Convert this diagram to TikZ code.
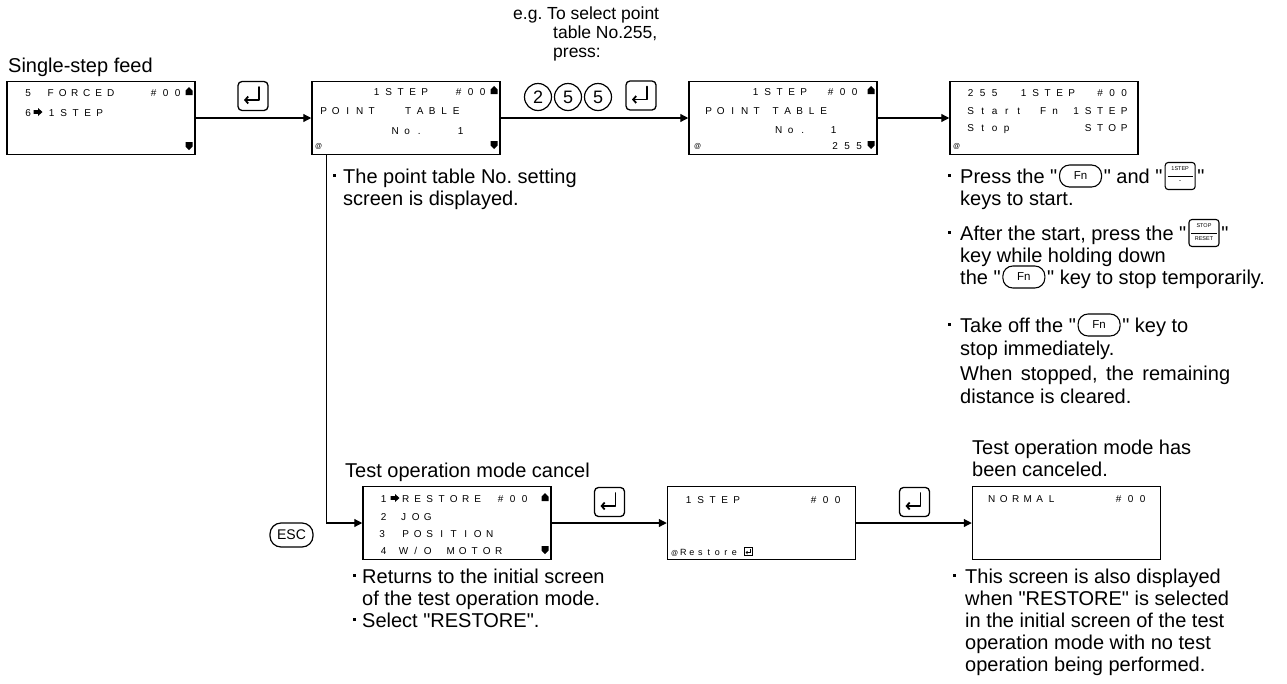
\documentclass[tikz,border=0pt]{standalone}
\usepackage{fontspec}
\setmainfont{Liberation Sans}[Ligatures=TeXOff]
\usetikzlibrary{arrows.meta,calc}
\ExplSyntaxOn
\NewDocumentCommand\lcd{O{12pt}m}{\tl_map_inline:nn{#2}{\makebox[#1][c]{##1}}}
\ExplSyntaxOff
\frenchspacing
\newcommand\bul[1][12pt]{\makebox[#1][l]{\raisebox{6.5pt}{\rule{3pt}{3pt}}}}
\newcommand\upmark[1]{\fill (#1) ++(-3.5,4) -- ++(0,-4.5) -- ++(3.5,-3.5) -- ++(3.5,3.5) -- ++(0,4.5) -- cycle;}
\newcommand\downmark[1]{\fill (#1) ++(-3.5,-4) -- ++(0,4.5) -- ++(3.5,3.5) -- ++(3.5,-3.5) -- ++(0,-4.5) -- cycle;}
\newcommand\rmark[1]{\fill (#1) ++(-4.5,-1.8) -- ++(4.5,0) -- ++(0,-2.2) -- ++(4.5,4) -- ++(-4.5,4) -- ++(0,-2.2) -- ++(-4.5,0) -- cycle;}
\tikzset{
 screen/.style={draw, line width=1.5pt, minimum width=188pt, minimum height=73pt, inner sep=0},
 lcdt/.style={inner sep=0, anchor=base west, font=\fontsize{10}{12}\selectfont},
 atsign/.style={inner sep=0, anchor=base west, font=\fontsize{7}{8}\selectfont},
 txt/.style={inner sep=0, anchor=base west, font=\fontsize{20}{22}\selectfont},
 egt/.style={inner sep=0, anchor=base west, font=\fontsize{17.5}{19}\selectfont},
 conn/.style={line width=1.2pt, -{Triangle[length=8pt,width=8pt]}},
 ekey/.style={draw, line width=1.3pt, rounded corners=4pt, minimum width=30pt, minimum height=29pt, inner sep=0},
 retline/.style={line width=1.8pt, line cap=round, line join=round, -{Straight Barb[length=3pt,width=7pt]}},
 dkey/.style={draw, circle, line width=1.2pt, minimum size=27pt, inner sep=0, font=\fontsize{18}{18}\selectfont},
 esckey/.style={draw, rounded corners=11pt, line width=1.2pt, minimum width=43pt, minimum height=24pt, inner sep=0, font=\fontsize{14}{14}\selectfont},
 fnkey/.style={draw, rounded corners=10pt, line width=1.1pt, minimum width=42pt, minimum height=22pt, inner sep=0, font=\fontsize{11.5}{12}\selectfont},
 stkey/.style={draw, rounded corners=3pt, line width=1.1pt, minimum width=30pt, minimum height=27pt, inner sep=0},
 tinyt/.style={inner sep=0, font=\fontsize{5.5}{6}\selectfont},
}
\newcommand\enterkey[2]{%
 \node[ekey] (#1) at (#2) {};
 \draw[retline] ($(#1.center)+(6,-9)$) -- ($(#1.center)+(6,4)$) -- ($(#1.center)+(-9,4)$);}
\begin{document}
\begin{tikzpicture}[x=1pt,y=-1pt]
\useasboundingbox (0,0) rectangle (1287,683);
% ---------- titles ----------
\node[txt] (ttl1) at (8,72) {Single-step feed};
\node[egt] (eg1) at (513,19) {e.g. To select point};
\node[egt] (eg2) at (553,38) {table No.255,};
\node[egt] (eg3) at (553,57) {press:};
\node[txt] (ttl2) at (345,477) {Test operation mode cancel};
\node[txt] (ttl3) at (972,454) {Test operation mode has};
\node[txt] (ttl3b) at (972,476) {been canceled.};
% ---------- screen 1 ----------
\node[screen] (s1) at (101,118) {};
\node[lcdt] (s1a) at (22,96) {\lcd{5}};
\node[lcdt] (s1b) at (44.5,96) {\lcd{FORCED}};
\node[lcdt] (s1c) at (147.5,96) {\lcd{\#00}};
\upmark{189,91}
\node[lcdt] (s1d) at (22,116) {\lcd{6}};
\rmark{38,112}
\node[lcdt] (s1e) at (45.5,116) {\lcd{1STEP}};
\downmark{189,146}
% ---------- screen 2 ----------
\node[screen] (s2) at (406,118) {};
\node[lcdt] (s2a) at (370.5,95) {\lcd{1STEP}};
\node[lcdt] (s2b) at (452.5,95) {\lcd{\#00}};
\upmark{494,90}
\node[lcdt] (s2c) at (317.5,114) {\lcd{POINT}};
\node[lcdt] (s2d) at (402,114) {\lcd{TABLE}};
\node[lcdt] (s2e) at (389,134) {\lcd{No.}};
\node[lcdt] (s2f) at (454.5,134) {\lcd{1}};
\node[atsign] (s2g) at (315,148) {@};
\downmark{494,145}
% ---------- screen 3 ----------
\node[screen] (s3) at (783,118) {};
\node[lcdt] (s3a) at (749.5,95) {\lcd{1STEP}};
\node[lcdt] (s3b) at (824.5,95) {\lcd{\#00}};
\upmark{871,90}
\node[lcdt] (s3c) at (702.5,114) {\lcd{POINT}};
\node[lcdt] (s3d) at (769.5,114) {\lcd{TABLE}};
\node[lcdt] (s3e) at (772.5,133) {\lcd{No.}};
\node[lcdt] (s3f) at (827.5,133) {\lcd{1}};
\node[atsign] (s3g) at (694,148) {@};
\node[lcdt] (s3h) at (829,149) {\lcd{255}};
\downmark{871,145}
% ---------- screen 4 ----------
\node[screen] (s4) at (1044,118) {};
\node[lcdt] (s4a) at (964.5,96) {\lcd{255}};
\node[lcdt] (s4b) at (1017.5,96) {\lcd{1STEP}};
\node[lcdt] (s4c) at (1094,96) {\lcd{\#00}};
\node[lcdt] (s4d) at (964.5,114) {\lcd{Start}};
\node[lcdt] (s4e) at (1037,114) {\lcd{Fn}};
\node[lcdt] (s4f) at (1070,114) {\lcd{1STEP}};
\node[lcdt] (s4g) at (964.5,131) {\lcd{Stop}};
\node[lcdt] (s4h) at (1082,131) {\lcd{STOP}};
\node[atsign] (s4i) at (953,148) {@};
% ---------- screen 5 ----------
\node[screen] (s5) at (457,523) {};
\node[lcdt] (s5a) at (377.5,502) {\lcd{1}};
\rmark{395,498}
\node[lcdt] (s5b) at (399.5,502) {\lcd{RESTORE}};
\node[lcdt] (s5c) at (494.5,502) {\lcd{\#00}};
\upmark{545,497}
\node[lcdt] (s5d) at (377.5,520) {\lcd{2}};
\node[lcdt] (s5e) at (397.5,520) {\lcd{JOG}};
\node[lcdt] (s5f) at (376,537) {\lcd{3}};
\node[lcdt] (s5g) at (399.5,537) {\lcd{POSITION}};
\node[lcdt] (s5h) at (377.5,554) {\lcd{4}};
\node[lcdt] (s5i) at (397.5,554) {\lcd{W/O}};
\node[lcdt] (s5j) at (444.5,554) {\lcd{MOTOR}};
\downmark{545,550}
% ---------- screen 6 ----------
\node[screen] (s6) at (761.5,523) {};
\node[lcdt] (s6a) at (682.5,503) {\lcd{1STEP}};
\node[lcdt] (s6b) at (807.5,503) {\lcd{\#00}};
\node[atsign] (s6c) at (671,555) {@};
\node[lcdt, font=\fontsize{9}{10}\selectfont] (s6d) at (679,555) {\lcd[8.5pt]{Restore}};
\node[draw, line width=0.7pt, minimum size=8pt, inner sep=0] (s6e) at (748,551) {};
\draw[line width=0.7pt, -{Straight Barb[length=1.5pt,width=3pt]}] ($(s6e.center)+(2,-2.5)$) -- ($(s6e.center)+(2,1.5)$) -- ($(s6e.center)+(-2.5,1.5)$);
% ---------- screen 7 ----------
\node[screen] (s7) at (1066.5,523) {};
\node[lcdt] (s7a) at (985.5,502) {\lcd{NORMAL}};
\node[lcdt] (s7b) at (1112.5,502) {\lcd{\#00}};
% ---------- keys ----------
\enterkey{k1}{253,96}
\node[dkey] (d1) at (538,97) {2};
\node[dkey] (d2) at (568,97) {5};
\node[dkey] (d3) at (598,97) {5};
\enterkey{k2}{641,95.5}
\enterkey{k3}{609.5,502}
\enterkey{k4}{914.5,502}
\node[esckey] (esc) at (291.5,535) {ESC};
% ---------- connectors ----------
\draw[conn] (s1.east) -- (s2.west);
\draw[conn] (s2.east) -- (s3.west);
\draw[conn] (s3.east) -- (s4.west);
\draw[conn] ([xshift=15pt]s2.south west) |- (s5.west);
\draw[conn] (s5.east) -- (s6.west);
\draw[conn] (s6.east) -- (s7.west);
% ---------- notes under screen 2 ----------
\node[txt] (n2a) at (333,183) {\bul[10pt]The point table No. setting};
\node[txt] (n2b) at (343,205) {screen is displayed.};
% ---------- notes under screen 4 ----------
\node[txt] (r1a) at (948,183) {\bul Press the "};
\node[fnkey] (fn1) at ($(r1a.base east)+(23,-7)$) {Fn};
\node[txt] (r1b) at ($(fn1.east |- r1a.base)+(1.5,0)$) {" and "};
\node[stkey] (sk1) at ($(r1b.base east)+(17.5,-7)$) {};
\node[tinyt] (sk1t) at ($(sk1.center)+(0,-7)$) {1STEP};
\draw[line width=0.7pt] ($(sk1.west)+(3,0)$) -- ($(sk1.east)+(-3,0)$);
\node[tinyt, font=\fontsize{9}{9}\selectfont] (sk1b) at ($(sk1.center)+(0,5)$) {.};
\node[txt] (r1c) at ($(sk1.east |- r1a.base)+(1.5,0)$) {"};
\node[txt] (r2) at (960,205) {keys to start.};
\node[txt] (r3a) at (948,240) {\bul After the start, press the "};
\node[stkey] (sk2) at ($(r3a.base east)+(17.5,-7)$) {};
\node[tinyt] (sk2t) at ($(sk2.center)+(0,-7)$) {STOP};
\draw[line width=0.7pt] ($(sk2.west)+(3,0)$) -- ($(sk2.east)+(-3,0)$);
\node[tinyt] (sk2b) at ($(sk2.center)+(0,6)$) {RESET};
\node[txt] (r3b) at ($(sk2.east |- r3a.base)+(1.5,0)$) {"};
\node[txt] (r4) at (960,262) {key while holding down};
\node[txt] (r5a) at (960,284) {the "};
\node[fnkey] (fn2) at ($(r5a.base east)+(23,-7)$) {Fn};
\node[txt] (r5b) at ($(fn2.east |- r5a.base)+(1.5,0)$) {" key to stop temporarily.};
\node[txt] (r6a) at (948,332) {\bul Take off the "};
\node[fnkey] (fn3) at ($(r6a.base east)+(23,-7)$) {Fn};
\node[txt] (r6b) at ($(fn3.east |- r6a.base)+(1.5,0)$) {" key to};
\node[txt] (r7) at (960,355) {stop immediately.};
\node[txt] (r8) at (960,380) {\makebox[270pt][s]{When stopped, the remaining}};
\node[txt] (r9) at (960,403) {distance is cleared.};
% ---------- notes under screen 5 ----------
\node[txt] (n5a) at (353,583) {\bul[9pt]Returns to the initial screen};
\node[txt] (n5b) at (362,605) {of the test operation mode.};
\node[txt] (n5c) at (353,627) {\bul[9pt]Select "RESTORE".};
% ---------- notes under screen 7 ----------
\node[txt] (n7a) at (953,583) {\bul This screen is also displayed};
\node[txt] (n7b) at (965,605) {when "RESTORE" is selected};
\node[txt] (n7c) at (965,627) {in the initial screen of the test};
\node[txt] (n7d) at (965,649) {operation mode with no test};
\node[txt] (n7e) at (965,671) {operation being performed.};
\end{tikzpicture}
\end{document}
